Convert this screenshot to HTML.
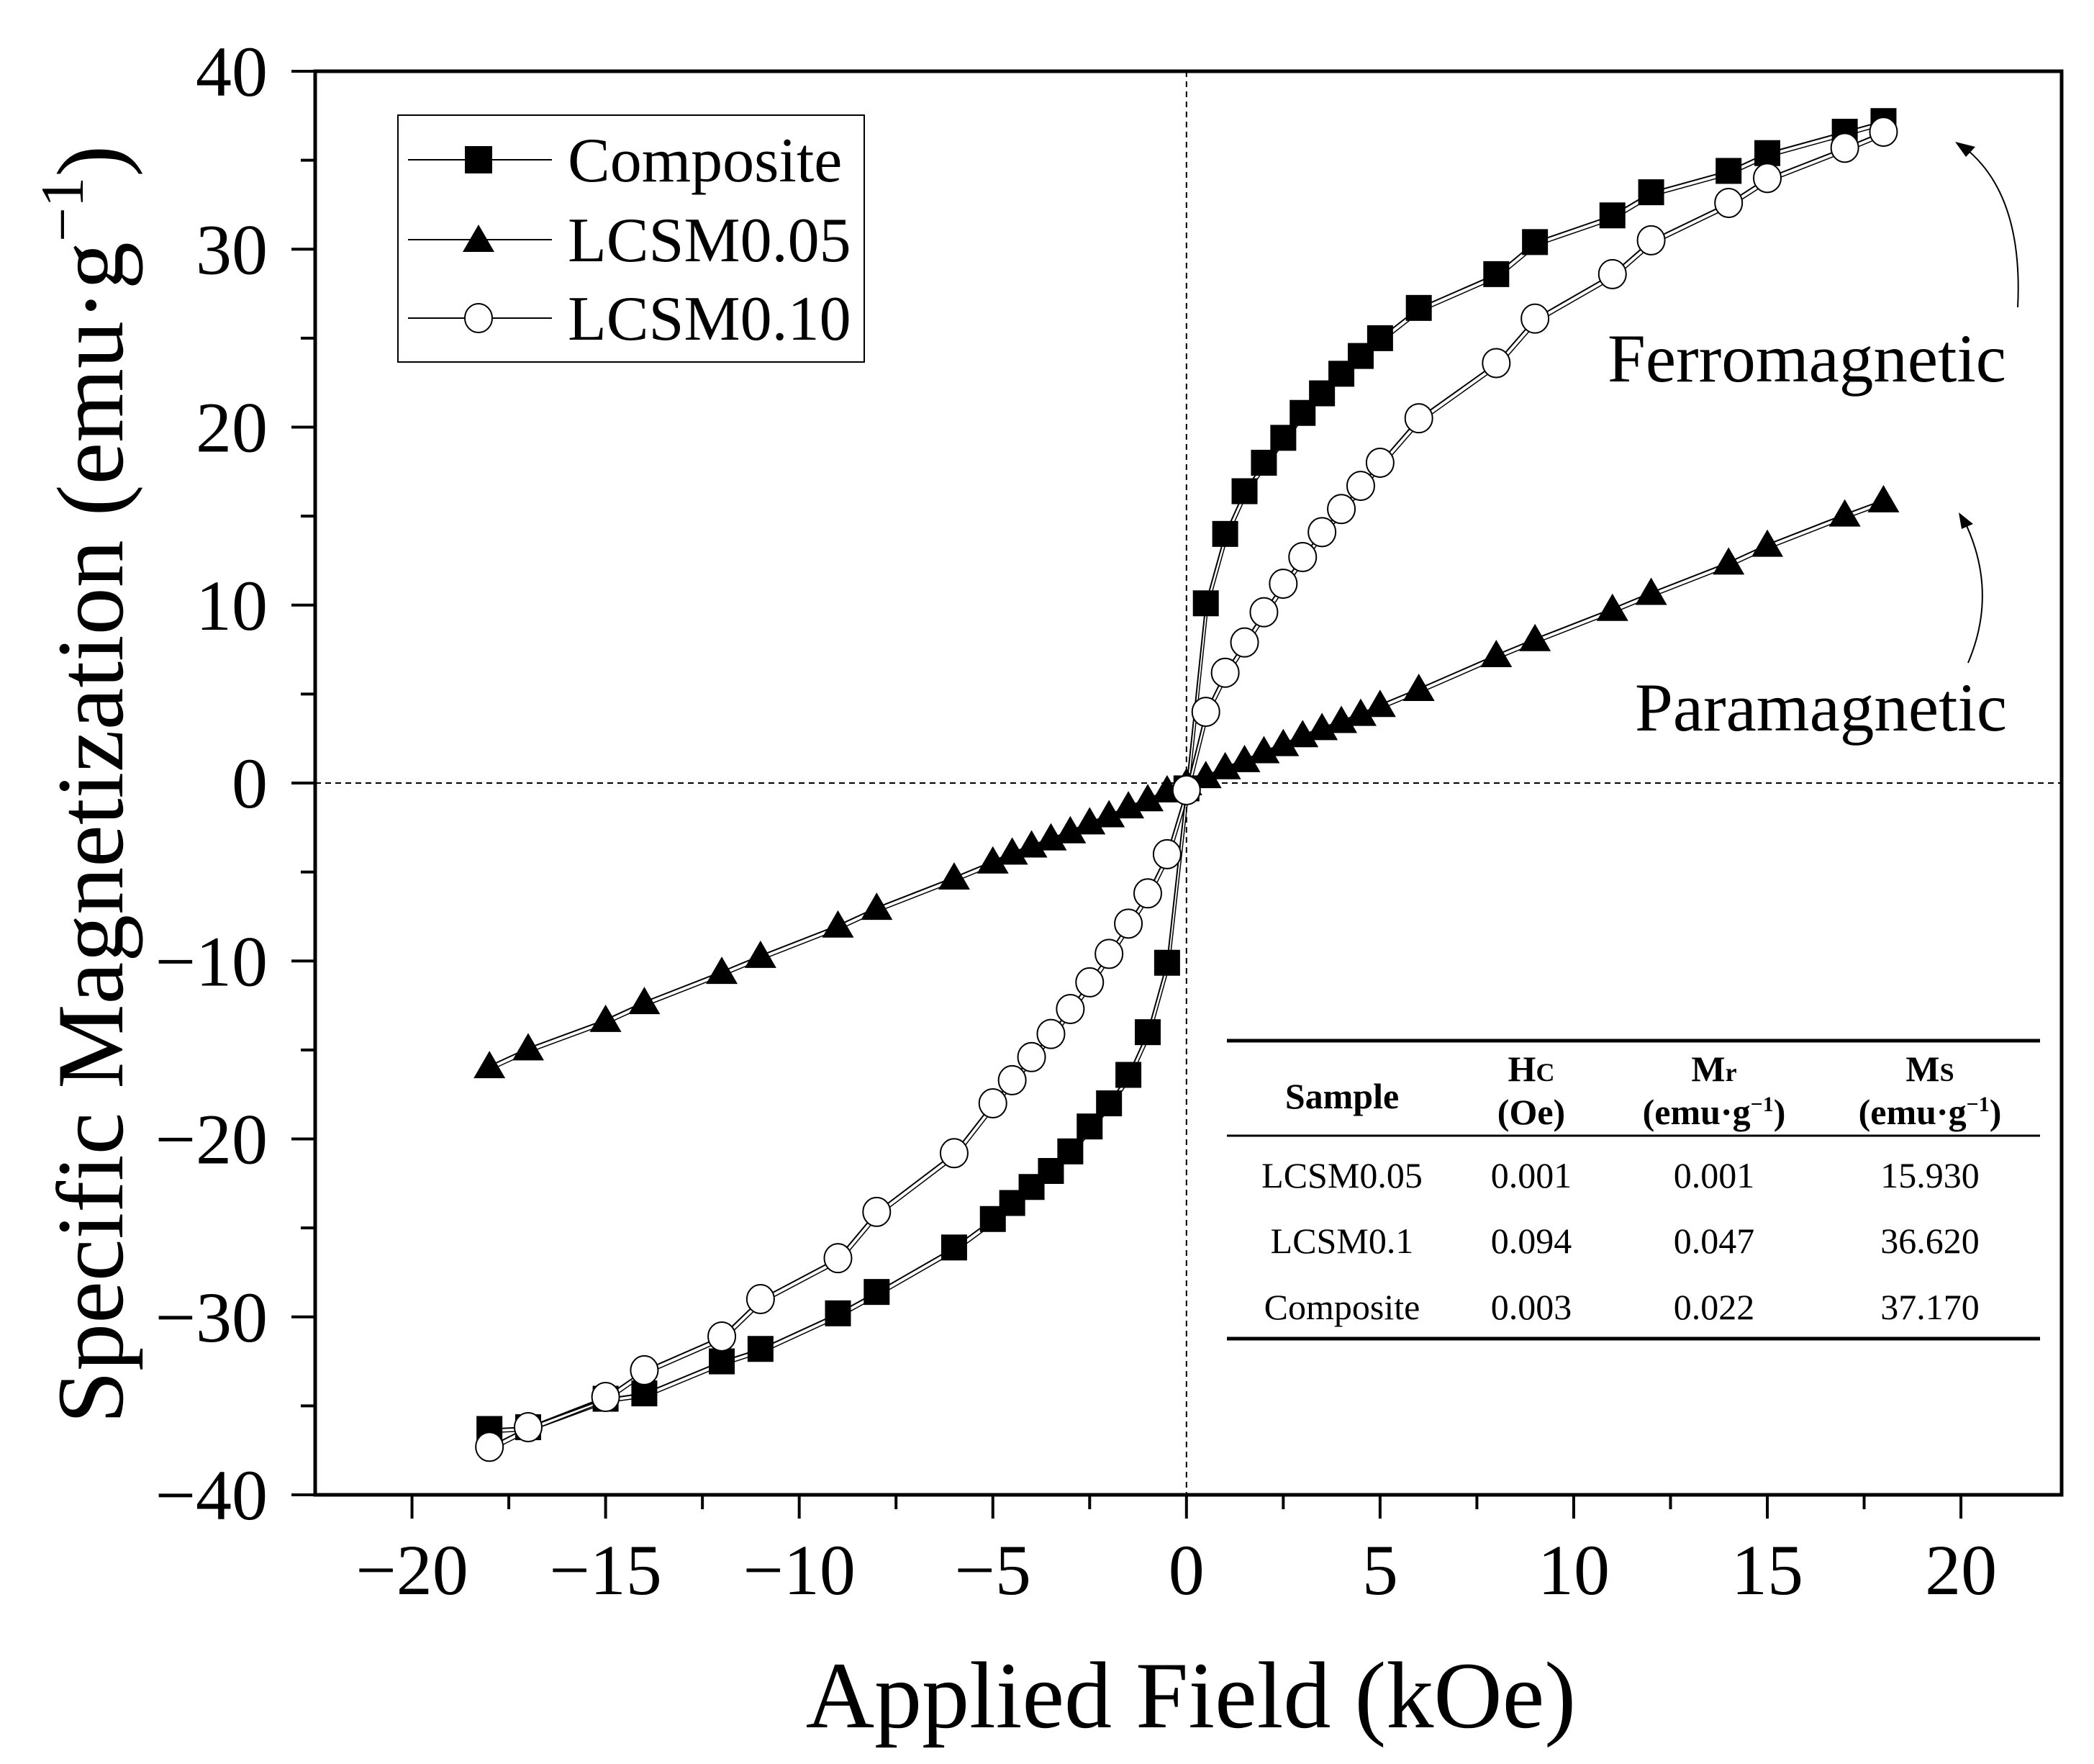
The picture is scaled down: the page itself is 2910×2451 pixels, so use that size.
<!DOCTYPE html>
<html><head><meta charset="utf-8"><style>
html,body{margin:0;padding:0;background:#fff;}
svg{display:block;font-family:"Liberation Serif",serif;}
</style></head><body>
<svg id="chart" width="2910" height="2451" viewBox="0 0 2910 2451" xmlns="http://www.w3.org/2000/svg">
<rect x="0" y="0" width="2910" height="2451" fill="#fff"/>
<g id="grid"></g>
<g id="series"></g>
<g id="axes"></g>
<text x="1655" y="2400" font-size="132" text-anchor="middle">Applied Field (kOe)</text>
<text transform="translate(170,1090) rotate(-90)" font-size="132" text-anchor="middle">Specific Magnetization (emu·g<tspan dy="-55" font-size="85">−1</tspan><tspan dy="55">)</tspan></text>
<g>
<rect x="553" y="160" width="648" height="343" fill="#fff" stroke="#000" stroke-width="2"/>
<g>
<line x1="567" y1="222" x2="767" y2="222" stroke="#000" stroke-width="2"/>
<rect x="646" y="203" width="38" height="38" fill="#000"/>
<text x="789" y="252" font-size="88">Composite</text></g>
<g>
<line x1="567" y1="333" x2="767" y2="333" stroke="#000" stroke-width="2"/>
<polygon points="665,312 687,350 643,350" fill="#000"/>
<text x="789" y="363" font-size="88">LCSM0.05</text></g>
<g>
<line x1="567" y1="442" x2="767" y2="442" stroke="#000" stroke-width="2"/>
<ellipse cx="665" cy="442" rx="19" ry="20" fill="#fff" stroke="#000" stroke-width="2"/>
<text x="789" y="472" font-size="88">LCSM0.10</text></g>
</g>
<text x="2234" y="530" font-size="95">Ferromagnetic</text>
<text x="2272" y="1015" font-size="95">Paramagnetic</text>
<path d="M2804,427 Q2812,270 2730,205" fill="none" stroke="#000" stroke-width="2"/>
<polygon points="2717,197 2745,204 2732,218" fill="#000"/>
<path d="M2735,921 Q2778,820 2728,720" fill="none" stroke="#000" stroke-width="2"/>
<polygon points="2722,712 2742,728 2726,735" fill="#000"/>
<g font-size="50" text-anchor="middle">
<line x1="1705" y1="1446" x2="2835" y2="1446" stroke="#000" stroke-width="5"/>
<line x1="1705" y1="1578" x2="2835" y2="1578" stroke="#000" stroke-width="3"/>
<line x1="1705" y1="1860" x2="2835" y2="1860" stroke="#000" stroke-width="5"/>
<text x="1865" y="1540" font-weight="bold">Sample</text>
<text x="2128" y="1502" font-weight="bold">H<tspan font-size="36">C</tspan></text>
<text x="2128" y="1562" font-weight="bold">(Oe)</text>
<text x="2382" y="1502" font-weight="bold">M<tspan font-size="36">r</tspan></text>
<text x="2382" y="1562" font-weight="bold">(emu·g<tspan dy="-18" font-size="30">−1</tspan><tspan dy="18">)</tspan></text>
<text x="2682" y="1502" font-weight="bold">M<tspan font-size="36">S</tspan></text>
<text x="2682" y="1562" font-weight="bold">(emu·g<tspan dy="-18" font-size="30">−1</tspan><tspan dy="18">)</tspan></text>
<g><text x="1865" y="1650">LCSM0.05</text><text x="2128" y="1650">0.001</text><text x="2382" y="1650">0.001</text><text x="2682" y="1650">15.930</text></g>
<g><text x="1865" y="1741">LCSM0.1</text><text x="2128" y="1741">0.094</text><text x="2382" y="1741">0.047</text><text x="2682" y="1741">36.620</text></g>
<g><text x="1865" y="1833">Composite</text><text x="2128" y="1833">0.003</text><text x="2382" y="1833">0.022</text><text x="2682" y="1833">37.170</text></g>
</g>
</svg>
<script>
const fields = [-18,-17,-15,-14,-12,-11,-9,-8,-6,-5,-4.5,-4,-3.5,-3,-2.5,-2,-1.5,-1,-0.5,0,0.5,1,1.5,2,2.5,3,3.5,4,4.5,5,6,8,9,11,12,14,15,17,18];
const composite = [-36.3,-36.2,-34.6,-34.3,-32.5,-31.8,-29.8,-28.6,-26.1,-24.5,-23.6,-22.7,-21.8,-20.7,-19.3,-18,-16.4,-14,-10.1,-0.3,10.1,14,16.4,18,19.4,20.8,21.9,23,24,25,26.7,28.6,30.4,31.9,33.2,34.4,35.4,36.6,37.2];
const lcsm005 = [-15.9,-14.9,-13.3,-12.3,-10.6,-9.7,-8,-7,-5.3,-4.4,-3.9,-3.5,-3.1,-2.7,-2.2,-1.8,-1.3,-0.9,-0.4,0,0.4,0.9,1.3,1.8,2.2,2.7,3.1,3.5,3.9,4.4,5.3,7.2,8.1,9.8,10.7,12.4,13.4,15.1,15.9];
const lcsm010 = [-37.3,-36.2,-34.5,-33,-31.1,-29,-26.7,-24.1,-20.8,-18,-16.7,-15.4,-14.1,-12.7,-11.2,-9.6,-7.9,-6.2,-4,-0.4,4,6.2,7.9,9.6,11.2,12.7,14.1,15.4,16.7,18,20.5,23.6,26.1,28.6,30.5,32.6,34,35.7,36.6];
const xTicks = [-20,-15,-10,-5,0,5,10,15,20];
const xTickLabels = ["−20","−15","−10","−5","0","5","10","15","20"];
const yTicks = [-40,-30,-20,-10,0,10,20,30,40];
const yTickLabels = ["−40","−30","−20","−10","0","10","20","30","40"];
const X0=438,X1=2865,Y0=2077,Y1=99, XMIN=-22.5,XMAX=22.6,YMIN=-40,YMAX=40;
const sx=v=>X0+(v-XMIN)/(XMAX-XMIN)*(X1-X0);
const sy=v=>Y0-(v-YMIN)/(YMAX-YMIN)*(Y0-Y1);
const NS="http://www.w3.org/2000/svg";
function mk(tag,attrs,parent){const e=document.createElementNS(NS,tag);for(const k in attrs)e.setAttribute(k,attrs[k]);parent.appendChild(e);return e;}
const grid=document.getElementById('grid'),ser=document.getElementById('series'),ax=document.getElementById('axes');
let l=mk('line',{x1:sx(0),y1:Y1,x2:sx(0),y2:Y0,stroke:'#000','stroke-width':2,'stroke-dasharray':'8,6'},grid);


l=mk('line',{x1:X0,y1:sy(0),x2:X1,y2:sy(0),stroke:'#000','stroke-width':2,'stroke-dasharray':'8,6'},grid);


function drawSeries(vals,kind,name){
  const g=mk('g',{},ser);
  
  
  const pts=fields.map((f,i)=>sx(f)+','+sy(vals[i])).join(' ');
  const pl=mk('polyline',{points:pts,fill:'none',stroke:'#000','stroke-width':2},g);
  
  
  const pl2=mk('polyline',{points:fields.map((f,i)=>(sx(f)+3)+','+(sy(vals[i])+5)).join(' '),fill:'none',stroke:'#000','stroke-width':1.5},g);
  
  
  fields.forEach((f,i)=>{
    const x=sx(f),y=sy(vals[i]);let m;
    if(kind==='sq') m=mk('rect',{x:x-18,y:y-18,width:36,height:36,fill:'#000'},g);
    else if(kind==='tri') m=mk('polygon',{points:`${x},${y-21} ${x+22},${y+17} ${x-22},${y+17}`,fill:'#000'},g);
    else m=mk('ellipse',{cx:x,cy:y,rx:19,ry:20,fill:'#fff',stroke:'#000','stroke-width':2},g);
    
    
  });
}
drawSeries(lcsm005,'tri','lcsm005');
drawSeries(composite,'sq','composite');
drawSeries(lcsm010,'circ','lcsm010');
const frame=mk('rect',{x:X0,y:Y1,width:X1-X0,height:Y0-Y1,fill:'none',stroke:'#000','stroke-width':5},ax);


for(let v=-20;v<=20;v+=2.5){const major=v%5===0;const t=mk('line',{x1:sx(v),y1:Y0,x2:sx(v),y2:Y0+(major?33:20),stroke:'#000','stroke-width':4},ax);

}
for(let v=-40;v<=40;v+=5){const major=v%10===0;const t=mk('line',{x1:X0,y1:sy(v),x2:X0-(major?33:20),y2:sy(v),stroke:'#000','stroke-width':4},ax);

}
xTicks.forEach((v,i)=>{const t=mk('text',{x:sx(v),y:2215,'font-size':100,'text-anchor':'middle'},ax);t.textContent=xTickLabels[i];

});
yTicks.forEach((v,i)=>{const t=mk('text',{x:372,y:sy(v)+34,'font-size':100,'text-anchor':'end'},ax);t.textContent=yTickLabels[i];

});
</script>
</body></html>
